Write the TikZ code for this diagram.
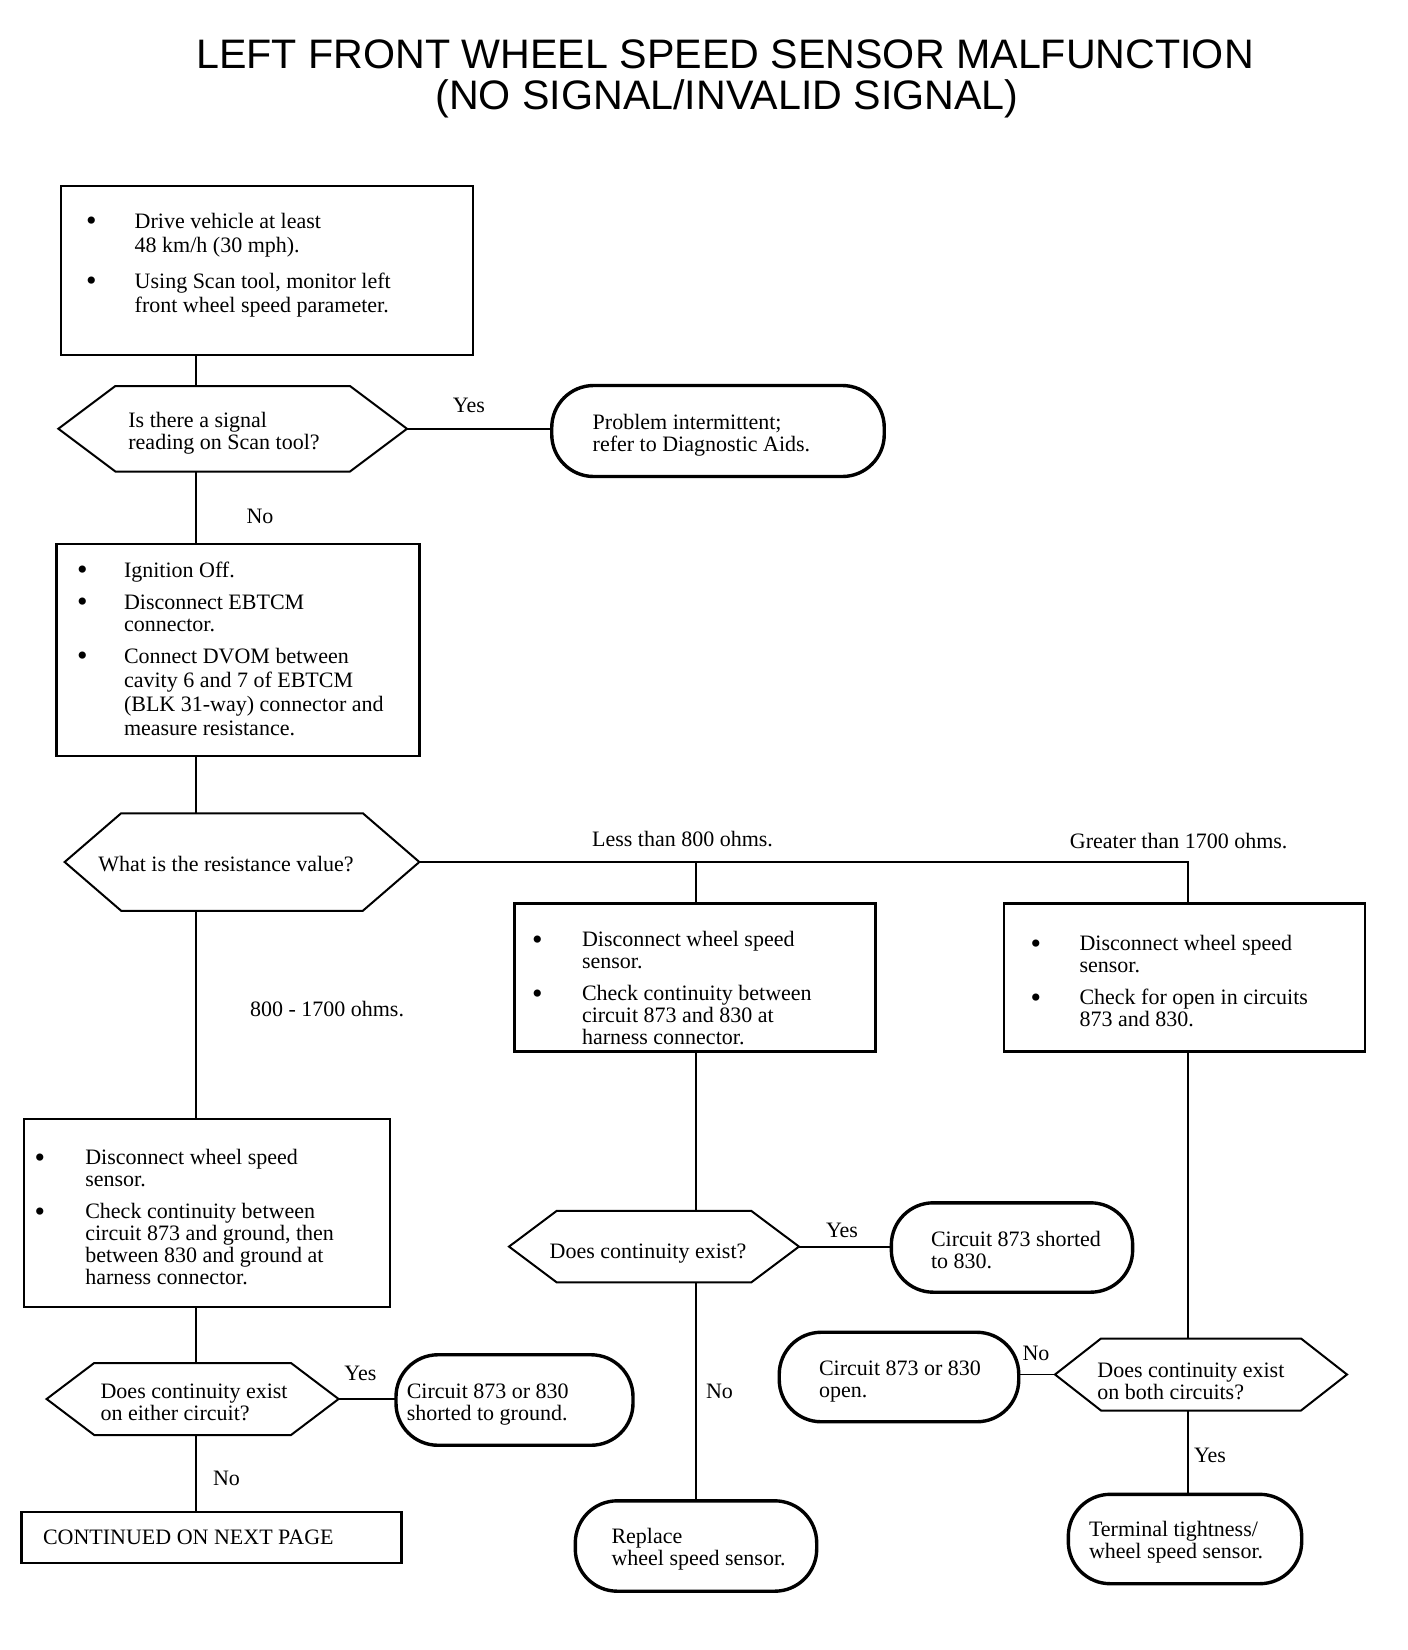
\documentclass[tikz,border=0pt]{standalone}
\usepackage{fontspec}
\setmainfont{Liberation Serif}
\newfontfamily\titlefont{Liberation Sans}
\usetikzlibrary{calc}
\newcommand{\ttab}[1]{\begin{tabular}[t]{@{}l@{}}#1\end{tabular}}
\newcommand{\btab}[2]{\begin{tabular}[t]{@{}p{#1}@{}l@{}}#2\end{tabular}}
\newcommand{\bul}{\raisebox{-1.4pt}{\fontsize{15}{11}\selectfont\textbullet}}
\newcommand{\hexdraw}[2]{\draw[hexline] (#1.west) -- ($(#1.north west)+(#2,0)$) -- ($(#1.north east)+(-#2,0)$) -- (#1.east) -- ($(#1.south east)+(-#2,0)$) -- ($(#1.south west)+(#2,0)$) -- cycle;}
\tikzset{
  sz/.style 2 args={minimum width=#1*0.5pt, minimum height=#2*0.5pt},
  boxst/.style={draw, rectangle, line width=1.1pt, inner sep=0pt, outer sep=0pt},
  hexst/.style={rectangle, inner sep=0pt, outer sep=0pt},
  hexline/.style={line width=1pt, line join=miter},
  termst/.style={draw, rectangle, rounded corners=21pt, line width=1.7pt, inner sep=0pt, outer sep=0pt},
  txt/.style={anchor=base west, inner sep=0pt, outer sep=0pt, font=\fontsize{11}{11}\selectfont},
  ctxt/.style={anchor=base, inner sep=0pt, outer sep=0pt, font=\fontsize{11}{11}\selectfont},
  lbl/.style={anchor=base, inner sep=0pt, outer sep=0pt, font=\fontsize{11}{11}\selectfont},
  titlest/.style={anchor=base, inner sep=0pt, font=\titlefont\fontsize{20.6}{24}\selectfont},
  conn/.style={line width=0.9pt}
}
\begin{document}
\begin{tikzpicture}[x=0.5pt,y=-0.5pt]
\fill[white] (0,0) rectangle (1408,1650);
\useasboundingbox (0,0) rectangle (1408,1650);

% title
\node[titlest] (title1) at (725,68) {LEFT FRONT WHEEL SPEED SENSOR MALFUNCTION};
\node[titlest] (title2) at (727,109) {(NO SIGNAL/INVALID SIGNAL)};

% column coordinates
\coordinate (colA) at (196,0);
\coordinate (colB) at (696,0);
\coordinate (colC) at (1188,0);

% boxes
\node[boxst, sz={412}{169}] (b1) at (267,270.5) {};
\node[txt] (b1t) at (86,228) {\btab{24.35pt}{\bul & Drive vehicle at least\\[1pt] & 48 km/h (30 mph).\\[7pt] \bul & Using Scan tool, monitor left\\[1pt] & front wheel speed parameter.}};

\node[boxst, sz={363}{212}] (b2) at (238,650) {};
\node[txt] (b2t) at (77,577) {\btab{23.5pt}{\bul & Ignition Off.\\[5pt] \bul & Disconnect EBTCM\\ & connector.\\[5pt] \bul & Connect DVOM between\\[1pt] & cavity 6 and 7 of EBTCM\\[1pt] & (BLK 31-way) connector and\\[1pt] & measure resistance.}};

\node[boxst, sz={361}{148}] (b3) at (695,977.5) {};
\node[txt] (b3t) at (532,946.5) {\btab{25pt}{\bul & Disconnect wheel speed\\ & sensor.\\[5pt] \bul & Check continuity between\\ & circuit 873 and 830 at\\ & harness connector.}};

\node[boxst, sz={361}{148}] (b4) at (1184.5,977.5) {};
\node[txt] (b4t) at (1030.5,950.5) {\btab{24.5pt}{\bul & Disconnect wheel speed\\ & sensor.\\[5pt] \bul & Check for open in circuits\\ & 873 and 830.}};

\node[boxst, sz={366}{188}] (b5) at (207,1213) {};
\node[txt] (b5t) at (34.6,1164.5) {\btab{25.35pt}{\bul & Disconnect wheel speed\\ & sensor.\\[5pt] \bul & Check continuity between\\ & circuit 873 and ground, then\\ & between 830 and ground at\\ & harness connector.}};

\node[boxst, sz={380}{51}] (cont) at (211.5,1537.5) {};
\node[txt] (contt) at (43,1544) {CONTINUED ON NEXT PAGE};

% hexagons
\node[hexst, sz={348.6}{85.5}] (h1) at (232.7,428.75) {};
\hexdraw{h1}{57}
\node[txt] (h1t) at (128.4,427) {\ttab{Is there a signal\\ reading on Scan tool?}};

\node[hexst, sz={354.7}{97.5}] (h2) at (242,862) {};
\hexdraw{h2}{56.5}
\node[ctxt] (h2t) at (226,871) {What is the resistance value?};

\node[hexst, sz={290}{71.6}] (h3) at (654,1246.6) {};
\hexdraw{h3}{47.8}
\node[ctxt] (h3t) at (648,1258) {Does continuity exist?};

\node[hexst, sz={292}{72}] (h4) at (1201,1374.5) {};
\hexdraw{h4}{46}
\node[txt] (h4t) at (1097.4,1377) {\ttab{Does continuity exist\\ on both circuits?}};

\node[hexst, sz={292}{72}] (h5) at (192.6,1399) {};
\hexdraw{h5}{47.6}
\node[txt] (h5t) at (100.6,1398) {\ttab{Does continuity exist\\ on either circuit?}};

% terminals
\node[termst, sz={332.5}{91}] (t1) at (718,431) {};
\node[txt] (t1t) at (592.7,429) {\ttab{Problem intermittent;\\ refer to Diagnostic Aids.}};

\node[termst, sz={241.3}{89.4}] (t2) at (1012,1247.5) {};
\node[txt] (t2t) at (931,1246) {\ttab{Circuit 873 shorted\\ to 830.}};

\node[termst, sz={239.5}{89.5}] (t3) at (899,1377) {};
\node[txt] (t3t) at (819,1375) {\ttab{Circuit 873 or 830\\ open.}};

\node[termst, sz={237}{90.5}] (t4) at (514.5,1400) {};
\node[txt] (t4t) at (406.8,1398) {\ttab{Circuit 873 or 830\\ shorted to ground.}};

\node[termst, sz={241.4}{90.4}] (t5) at (696,1546) {};
\node[txt] (t5t) at (611.5,1543) {\ttab{Replace\\ wheel speed sensor.}};

\node[termst, sz={233.4}{89.4}] (t6) at (1185,1539) {};
\node[txt] (t6t) at (1089,1536) {\ttab{Terminal tightness/\\ wheel speed sensor.}};

% connectors
\draw[conn] (b1.south -| colA) -- (h1.north -| colA);
\draw[conn] (h1.east) -- (h1.east -| t1.west);
\draw[conn] (h1.south -| colA) -- (b2.north -| colA);
\draw[conn] (b2.south -| colA) -- (h2.north -| colA);
\draw[conn] (h2.east) -- (h2.east -| colC) -- (b4.north -| colC);
\draw[conn] (h2.east -| colB) -- (b3.north -| colB);
\draw[conn] (h2.south -| colA) -- (b5.north -| colA);
\draw[conn] (b3.south -| colB) -- (h3.north -| colB);
\draw[conn] (h3.south -| colB) -- (t5.north -| colB);
\draw[conn] (h3.east) -- (h3.east -| t2.west);
\draw[conn] (b4.south -| colC) -- (h4.north -| colC);
\draw[conn] (h4.south -| colC) -- (t6.north -| colC);
\draw[conn] (h4.west) -- (h4.west -| t3.east);
\draw[conn] (b5.south -| colA) -- (h5.north -| colA);
\draw[conn] (h5.south -| colA) -- (cont.north -| colA);
\draw[conn] (h5.east) -- (h5.east -| t4.west);

% labels
\node[lbl] (l1) at (469,412) {Yes};
\node[lbl] (l2) at (260,523) {No};
\node[lbl] (l3) at (682.5,846) {Less than 800 ohms.};
\node[lbl] (l4) at (1178.7,848) {Greater than 1700 ohms.};
\node[lbl] (l5) at (327,1016) {800 - 1700 ohms.};
\node[lbl] (l6) at (842,1237.5) {Yes};
\node[lbl] (l7) at (719.5,1398) {No};
\node[lbl] (l8) at (1036,1360.6) {No};
\node[lbl] (l9) at (1210,1462) {Yes};
\node[lbl] (l10) at (360.5,1380.6) {Yes};
\node[lbl] (l11) at (226.5,1485) {No};
\end{tikzpicture}
\end{document}
